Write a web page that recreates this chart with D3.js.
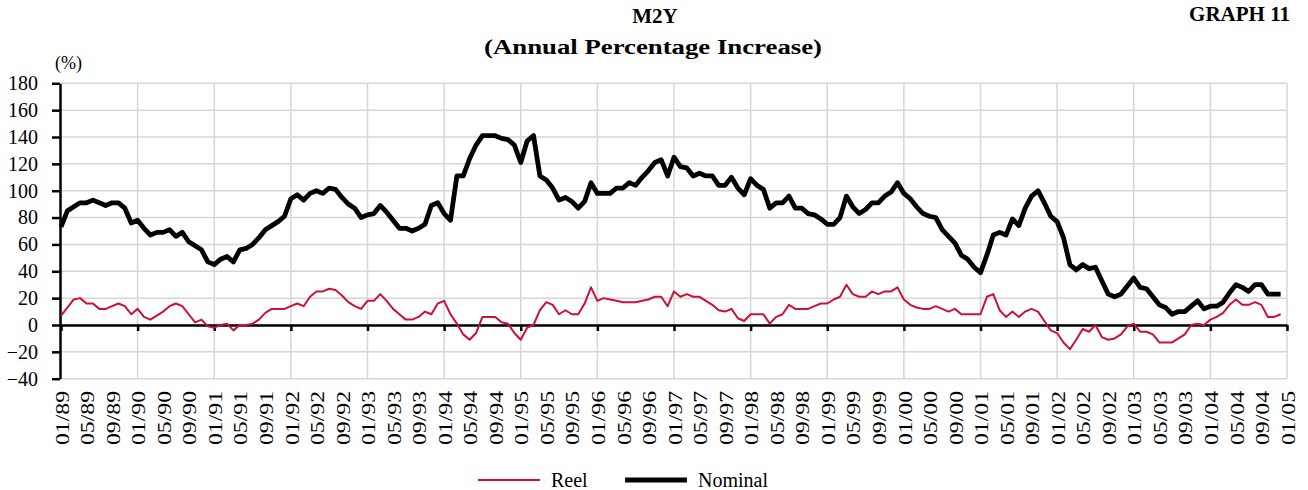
<!DOCTYPE html>
<html>
<head>
<meta charset="utf-8">
<script src="https://cdn.jsdelivr.net/npm/d3@7"></script>
<style>
  html, body { margin: 0; padding: 0; background: #fff; }
  svg { display: block; }
  text { font-family: "Liberation Serif", "Times New Roman", serif; fill: #000; }
</style>
</head>
<body>
<svg id="chart" width="1308" height="490"></svg>
<script>
// ---- DATA (monthly, 01/1989 .. 12/2004) ----
const nominal = [
  73, 85, 88, 91, 91, 93, 91, 89, 91, 91, 87, 76,        // 1989
  78, 72, 67, 69, 69, 71, 66, 69, 62, 59, 56, 47,        // 1990
  45, 49, 51, 47, 56, 57, 60, 65, 71, 74, 77, 81,        // 1991
  94, 97, 93, 98, 100, 98, 102, 101, 95, 90, 87, 80,     // 1992
  82, 83, 89, 84, 78, 72, 72, 70, 72, 75, 89, 91,        // 1993
  83, 78, 111, 111, 124, 134, 141, 141, 141, 139, 138, 134, // 1994
  121, 137, 141, 111, 108, 102, 93, 95, 92, 87, 92, 106, // 1995
  98, 98, 98, 102, 102, 106, 104, 110, 115, 121, 123, 111, // 1996
  125, 118, 117, 111, 113, 111, 111, 104, 104, 110, 102, 97, // 1997
  109, 104, 101, 87, 91, 91, 96, 87, 87, 83, 82, 79,     // 1998
  75, 75, 80, 96, 88, 83, 86, 91, 91, 96, 99, 106,       // 1999
  98, 94, 88, 83, 81, 80, 71, 66, 61, 52, 49, 43,        // 2000
  39, 52, 67, 69, 67, 79, 74, 87, 96, 100, 91, 81,       // 2001
  77, 65, 45, 41, 45, 42, 43, 33, 23, 21, 23, 29,        // 2002
  35, 28, 27, 21, 15, 13, 8, 10, 10, 14, 18, 12,         // 2003
  14, 14, 17, 24, 30, 28, 25, 30, 30, 23, 23, 23         // 2004
];
const reel = [
  7, 13, 19, 20, 16, 16, 12, 12, 14, 16, 14, 8,          // 1989
  12, 6, 4, 7, 10, 14, 16, 14, 8, 2, 4, -1,              // 1990
  -2, 0, 1, -4, 0, 0, 1, 4, 9, 12, 12, 12,               // 1991
  14, 16, 14, 21, 25, 25, 27, 26, 22, 17, 14, 12,        // 1992
  18, 18, 23, 18, 12, 8, 4, 4, 6, 10, 8, 16,             // 1993
  18, 8, 1, -7, -11, -6, 6, 6, 6, 2, 1, -6,              // 1994
  -11, -2, 0, 11, 17, 15, 8, 11, 8, 8, 16, 28,           // 1995
  18, 20, 19, 18, 17, 17, 17, 18, 19, 21, 21, 14,        // 1996
  25, 21, 23, 21, 21, 18, 15, 11, 10, 12, 5, 3,          // 1997
  8, 8, 8, 1, 6, 8, 15, 12, 12, 12, 14, 16,              // 1998
  16, 19, 21, 30, 23, 21, 21, 25, 23, 25, 25, 28,        // 1999
  19, 15, 13, 12, 12, 14, 12, 10, 12, 8, 8, 8,           // 2000
  8, 21, 23, 11, 6, 10, 6, 10, 12, 10, 3, -4,            // 2001
  -6, -13, -18, -11, -3, -5, 0, -9, -11, -10, -7, -1,    // 2002
  1, -5, -5, -7, -13, -13, -13, -10, -7, 0, 1, 0,        // 2003
  4, 6, 9, 15, 19, 15, 15, 17, 15, 6, 6, 8               // 2004
];
const tickLabels = [
  "01/89","05/89","09/89","01/90","05/90","09/90","01/91","05/91","09/91",
  "01/92","05/92","09/92","01/93","05/93","09/93","01/94","05/94","09/94",
  "01/95","05/95","09/95","01/96","05/96","09/96","01/97","05/97","09/97",
  "01/98","05/98","09/98","01/99","05/99","09/99","01/00","05/00","09/00",
  "01/01","05/01","09/01","01/02","05/02","09/02","01/03","05/03","09/03",
  "01/04","05/04","09/04","01/05"
];
const yTicks = [-40, -20, 0, 20, 40, 60, 80, 100, 120, 140, 160, 180];
const seriesNames = ["Reel", "Nominal"];
const titleLines = ["M2Y", "(Annual Percentage Increase)"];
const graphLabel = "GRAPH 11";
const unitLabel = "(%)";

// ---- CHART ----
const svg = d3.select("#chart");
const nMonths = tickLabels.length * 4 - 4; // 192
const x = d3.scaleLinear().domain([0, nMonths]).range([61, 1287]);
const y = d3.scaleLinear().domain([-40, 180]).range([378.7, 83.3]);
const gridColor = "#d6d6d6";
const red = "#cc1036";

// gridlines
const grid = svg.append("g");
grid.selectAll("line.h").data(yTicks).enter().append("line")
  .attr("x1", x(0)).attr("x2", x(nMonths))
  .attr("y1", d => y(d)).attr("y2", d => y(d))
  .attr("stroke", gridColor).attr("stroke-width", 1.5);
const yearTicks = d3.range(12, nMonths + 1, 12);
grid.selectAll("line.v").data(yearTicks).enter().append("line")
  .attr("x1", d => x(d)).attr("x2", d => x(d))
  .attr("y1", y(180)).attr("y2", y(-40))
  .attr("stroke", gridColor).attr("stroke-width", 1.5);

// y axis
const yAxis = svg.append("g").attr("transform", "translate(60,0)")
  .call(d3.axisLeft(y).tickValues(yTicks).tickSize(8).tickPadding(14).tickSizeOuter(0));
yAxis.select(".domain").attr("stroke", "#000").attr("stroke-width", 2.5);
yAxis.selectAll(".tick line").attr("stroke", "#000").attr("stroke-width", 2.5);
yAxis.selectAll(".tick text")
  .style("font-family", "'Liberation Serif', serif")
  .style("font-size", "20px").attr("fill", "#000");

// x axis at zero with yearly ticks
const xAxis = svg.append("g").attr("transform", `translate(0,${y(0)})`)
  .call(d3.axisBottom(x).tickValues([0, ...yearTicks]).tickSize(6).tickSizeOuter(0).tickFormat(""));
xAxis.select(".domain").attr("stroke", "#000").attr("stroke-width", 2.5);
xAxis.selectAll(".tick line").attr("stroke", "#000").attr("stroke-width", 2.5);

// rotated tick labels
svg.append("g").selectAll("text").data(tickLabels).enter().append("text")
  .attr("transform", (d, i) => `translate(${x(i * 4) + 1},391) rotate(-90)`)
  .attr("text-anchor", "end").attr("dy", "0.35em")
  .attr("textLength", 54).attr("lengthAdjust", "spacingAndGlyphs")
  .style("font-size", "19px")
  .text(d => d);

// lines
const line = d3.line().x((d, i) => x(i)).y(d => y(d));
svg.append("path").datum(reel).attr("d", line)
  .attr("fill", "none").attr("stroke", red).attr("stroke-width", 2)
  .attr("stroke-linejoin", "round");
svg.append("path").datum(nominal).attr("d", line)
  .attr("fill", "none").attr("stroke", "#000").attr("stroke-width", 4.8)
  .attr("stroke-linejoin", "round");

// titles
svg.append("text").attr("x", 655).attr("y", 23).attr("text-anchor", "middle")
  .style("font-size", "21px").style("font-weight", "bold").text(titleLines[0]);
svg.append("text").attr("x", 653).attr("y", 54).attr("text-anchor", "middle")
  .attr("textLength", 338).attr("lengthAdjust", "spacingAndGlyphs")
  .style("font-size", "20px").style("font-weight", "bold").text(titleLines[1]);
svg.append("text").attr("x", 1290).attr("y", 21).attr("text-anchor", "end")
  .style("font-size", "21px").style("font-weight", "bold").text(graphLabel);
svg.append("text").attr("x", 55).attr("y", 69)
  .style("font-size", "18px").text(unitLabel);

// legend
const legend = svg.append("g");
const legendItems = [
  { name: seriesNames[0], color: red, w: 2, x0: 478 },
  { name: seriesNames[1], color: "#000", w: 5, x0: 625 }
];
legendItems.forEach(it => {
  legend.append("line").attr("x1", it.x0).attr("x2", it.x0 + 62)
    .attr("y1", 480).attr("y2", 480)
    .attr("stroke", it.color).attr("stroke-width", it.w);
  legend.append("text").attr("x", it.x0 + 73).attr("y", 487)
    .style("font-size", "20px").text(it.name);
});
</script>
</body>
</html>
